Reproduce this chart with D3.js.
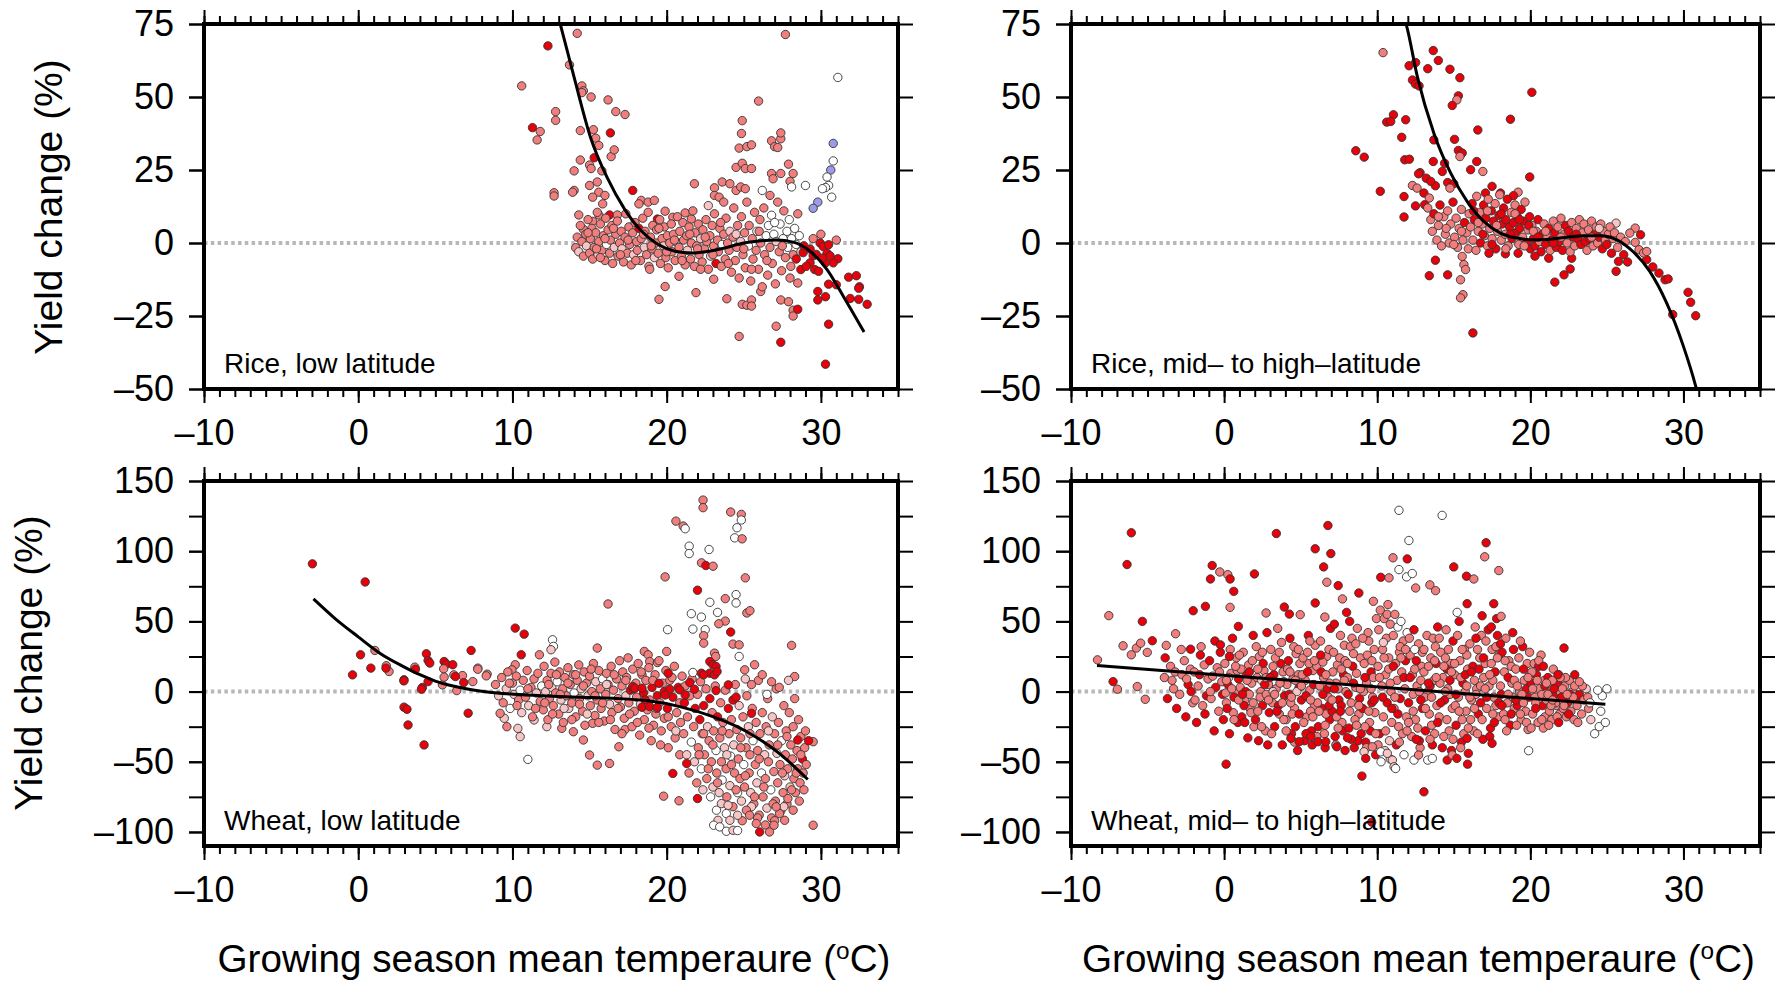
<!DOCTYPE html>
<html lang="en">
<head>
<meta charset="utf-8">
<title>Yield change vs growing season temperature</title>
<style>
  body { margin: 0; background: #fff; }
  svg { display: block; font-family: "Liberation Sans", Arial, Helvetica, sans-serif; }
</style>
<script src="https://d3js.org/d3.v7.min.js"></script>
</head>
<body>
<script>
// colour codes: 0 red, 1 salmon, 2 pale pink, 3 white, 4 blue
const dotColours = ["#e8000b", "#f27d7d", "#f7c5c5", "#ffffff", "#9b9bea"];

const xMajor = [-10, 0, 10, 20, 30];
const xMinor = d3.range(-10, 36, 1);
const yTicksRice = [-50, -25, 0, 25, 50, 75];
const yLabelsRice = [-50, -25, 0, 25, 50, 75];
const yTicksWheat = [-100, -75, -50, -25, 0, 25, 50, 75, 100, 125, 150];
const yLabelsWheat = [-100, -50, 0, 50, 100, 150];

// [temperature, yield change, colour code]
const riceLow = [
  [10.6,53.8,1],[12.3,67.5,0],[11.3,39.5,0],[11.8,38.2,1],[11.6,35.3,1],[12.8,45,1],[12.8,42,1],[12.7,17.2,1],[13.7,61,1],
  [14.2,71.8,1],[27.7,71.4,1],[31.1,56.7,3],[14.5,53.8,1],[14.6,52.1,1],[14.5,51.5,1],[15.1,50,1],[16.2,49,1],[16.7,45,1],[17.3,44,1],
  [25.96,48.6,1],[24.9,41.9,1],[24.85,37.5,1],[14.4,38.5,1],[15.25,38.8,1],[16.35,37.7,0],[15.4,35.9,1],[15.6,33.4,1],[15.3,29.2,0],
  [16.4,29.6,1],[16.6,31.9,1],[14.4,28.4,1],[15.0,26.7,1],[15.1,25.5,1],[14.0,24.7,1],[15.8,24.7,1],
  [24.7,32.5,1],[25.2,33,1],[25.5,33.6,1],[26.8,35,1],[27.4,35.7,1],[27.4,37.7,1],[27,33,1],[27.2,32.7,1],[24.5,25.9,1],[24.9,27.3,1],
  [25.1,25.5,1],[25.5,25.5,1],[27.9,27,1],
  [30.8,34.1,4],[30.8,28.1,3],[30.64,25,4],[30.4,22.6,3],[30.5,19.7,3],[30.3,19,3],[30.1,18.6,3],[30.7,15.7,3],[29.8,14,4],[29.5,11.9,4],
  [29.0,19.7,3],[28.2,23.8,1],[28.0,21.1,1],[28.1,19.2,3],
  [26.8,23.8,1],[27.4,23.8,1],[26.9,22,1],[26.2,18,3],[26.7,16.3,1],[21.8,20.3,1],
  [23.1,18.9,1],[23.6,20.9,1],[24.1,20.3,1],[24.5,18,1],[24.8,19.2,1],[25.1,18.6,1],[22.7,12.8,2],[23.1,16.3,1],[23.4,15.7,1],[23.7,14,1],
  [12.7,16.1,1],[14.0,18,1],[13.9,17.4,1],[15.0,19.7,1],[15.5,20.9,1],[15.6,17.4,1],[15.2,15.7,1],[16.0,16.3,1],[15.85,13.4,1],[14.3,9.6,1],[14.6,4.7,1],
  [15.2,7.4,1],[15.6,9.6,1],[16.3,9.6,0],[16.8,9.6,1],[17.8,18,0],[18.35,14.6,1],[18.8,14,1],[19.2,14.6,1],[18.2,13.4,1],[19.9,10.9,1],
  [19.4,8.2,0],[21.2,10.3,1],[20.4,8.8,1],[21.6,8.2,1],
  [19.9,-14.9,1],[19.5,-19.3,1],[20.8,-11.4,1],[21.9,-17,1],[23.05,-12.4,1],[23.9,-19.1,1],[24.9,-21,1],[25.2,-21.3,1],[25.5,-19.5,1],
  [25.5,-21.6,1],[24.7,-32,1],[26.1,-16.6,1],[27.1,-28.5,1],[27.4,-34,0],[27.4,-19.5,1],[27.9,-20.1,1],[28.2,-23,1],[28.2,-25,1],
  [28.5,-22.7,0],[28.5,-13.7,1],
  [14.1,-1.6,1],[14.2,2,1],[14.3,-3,2],[14.4,6,1],[14.5,0.5,1],[14.6,-4.5,1],
  [14.75,3,1],[14.8,-1,2],[14.9,8,1],[15.0,-3.5,1],[15.05,1.5,1],[15.15,5,1],[15.2,-5.5,1],
  [15.3,-1.5,1],[15.4,3.5,1],[15.5,10.5,1],[15.55,-4,2],[15.6,0.5,1],[15.7,6.5,1],
  [15.8,-2.5,1],[15.9,2.5,1],[16.0,-6,1],[16.05,8.5,1],[16.1,-0.5,3],[16.2,4.5,1],
  [16.3,-3.5,1],[16.35,1,1],[16.45,6,1],[16.5,-7,1],[16.6,-1.5,2],[16.7,3,1],
  [16.8,7.5,1],[16.85,-4.5,1],[16.95,0,1],[17.05,4,1],[17.1,-2,2],[17.2,-6.5,1],
  [17.3,2,1],[17.35,10,1],[17.45,-3.5,1],[17.55,5.5,1],[17.6,-0.5,1],[17.7,-7.5,1],
  [17.8,3.5,1],[17.85,-4,2],[17.95,7,1],[18.05,0.5,1],[18.1,-2.5,1],[18.2,5,0],
  [18.3,-6,1],[18.35,1.5,1],[18.45,8.5,1],[18.55,-1.5,2],[18.6,4,1],[18.7,-4,1],
  [18.8,10.5,1],[18.85,-8,1],[18.95,2,1],[19.05,-2,1],[19.1,6,1],[19.2,-5,2],
  [19.3,0,1],[19.35,4.5,1],[19.45,-3.5,1],[19.55,8,1],[19.6,-7,1],[19.7,1.5,1],
  [19.8,-1,2],[19.85,5.5,1],[19.95,-5,1],[20.05,2.5,1],[20.1,-8.5,1],[20.2,0,1],
  [20.3,6.5,1],[20.35,-3,1],[20.45,3,1],[20.55,-6,1],[20.6,0.5,2],[20.7,9,1],
  [20.8,-1.5,1],[20.85,4,1],[20.95,-4.5,1],[21.05,7,1],[21.1,1,1],[21.2,-7.5,1],
  [21.3,2.5,1],[21.35,-2.5,2],[21.45,5.5,1],[21.55,-5.5,1],[21.6,0,1],[21.7,11,1],
  [21.8,-8,1],[21.85,3.5,1],[21.95,-1,1],[22.05,6.5,1],[22.1,-4,1],[22.2,1.5,2],
  [22.3,-6.5,1],[22.35,4.5,1],[22.45,-2,1],[22.55,8,1],[22.6,0.5,1],[22.7,-9,1],
  [22.8,2.5,1],[22.85,-4.5,2],[22.95,6,1],[23.05,-1,1],[23.1,10,1],[23.2,-7,0],
  [23.3,1,1],[23.35,-3,1],[23.45,5,1],[23.55,-8,1],[23.6,-0.5,3],[23.7,3,1],
  [23.8,-5.5,1],[23.85,8.5,1],[23.95,0,1],[24.05,-2.5,1],[24.1,4,2],[24.2,-10,1],
  [24.3,2,1],[24.35,12,1],[24.45,-6,1],[24.55,-1.5,1],[24.6,6,1],[24.7,-12,1],
  [24.8,0.5,2],[24.85,9,1],[24.95,-4,1],[25.05,3.5,1],[25.1,-8.5,1],[25.2,14,1],
  [25.3,-1,3],[25.35,6,1],[25.45,-13,1],[25.55,1.5,1],[25.6,-5.5,1],[25.7,10.5,1],
  [25.8,-2.5,1],[25.85,4,3],[25.95,-9,1],[26.05,8,1],[26.1,0,1],[26.2,-15,1],
  [26.3,12,1],[26.35,-4,1],[26.45,2.5,3],[26.55,-11,1],[26.6,6,3],[26.7,-1.5,1],
  [26.8,9.5,3],[26.85,-7,1],[26.95,3,3],[27.05,-14,1],[27.1,0.5,2],[27.2,14,1],
  [27.3,-3,1],[27.35,6.5,3],[27.45,-9.5,1],[27.55,1.5,3],[27.6,11,1],[27.7,-5,1],
  [27.8,4,3],[27.85,-1.5,3],[27.95,8,3],[28.05,-8,1],[28.1,1.5,3],[28.2,-4,1],
  [28.3,5,3],[28.4,-0.5,3],[28.5,10,1],[28.6,2.5,3],[28.7,-3,2],
  [14.9,3.5,1],[15.45,-2,1],[16.0,1.5,1],[16.55,5,1],[17.0,-4,1],[17.5,1,1],[18.0,-6,1],[18.5,3,1],[19.0,-1,1],[19.5,5,1],
  [20.0,-3,1],[20.5,1,1],[21.0,-6,1],[21.5,3,1],[22.0,-2,1],[22.5,2,1],[23.0,-4,1],[23.5,7,1],[24.0,-7,1],[24.5,3,2],
  [25.0,-2,1],[25.5,-9,1],[26.0,4,1],[26.5,-6,1],[27.0,7,3],[27.5,-1,1],[28.0,-12,1],[15.7,-5,1],[18.9,-9,1],[22.2,-9,1],
  [29.8,-16.6,0],[29.8,-19.5,0],[30.3,-18.4,0],[30.5,-14.1,0],[30.5,-27.8,0],[30.3,-41.5,0],[31.0,-14.3,0],[31.8,-11.7,0],
  [32.3,-11.2,0],[32.5,-15,0],[32.45,-15.5,0],[31.9,-19,0],[32.45,-19.3,0],[33.0,-21,0],[31.1,-5.4,0],[30.8,-6.8,0],[31.0,1.0,1],
  [28.85,-3.3,0],[29.3,-2.1,0],[29.5,-4.4,0],[29.7,-3.9,0],[29.95,0,0],[30.15,-1.2,0],[30.4,-3.5,0],[30.5,-0.6,0],[29.3,-6.8,0],
  [29.6,-9.1,0],[29.85,-9.7,0],[28.7,-9.1,0],[29.05,-8,0],[30.3,-6.8,0],[30.1,-5.2,0],[30.6,-4.4,0],[28.4,-5.5,0],[28.9,-1,0],
  [29.5,1.5,1],[30.0,3,1]
];

const riceHigh = [
  [10.38,65.2,1],[13.66,65.9,0],[13.99,62.5,0],[12.08,60.7,0],[12.51,61.8,0],[13.3,59.7,0],[14.75,59.5,0],[15.4,56.6,0],[12.3,55.8,0],
  [12.5,54.4,0],[12.73,53.8,0],[15.3,50.4,0],[15.2,49,1],[14.9,47.1,0],[20.1,51.6,0],[11.06,43.9,0],[10.62,41.4,0],[10.88,41.6,0],
  [11.86,42.2,0],[18.7,42.4,0],[8.6,31.6,0],[9.15,29.4,0],[11.6,36.2,0],[11.8,28.5,0],[12.1,28.7,0],[13.7,35.3,0],[15.05,35.5,0],
  [16.57,38.7,0],[15.3,31.7,0],[15.55,30.8,0],[15.4,29.6,1],[13.66,27.9,0],[14.4,27.3,0],[16.1,25.1,0],[16.5,27.9,0],[19.96,22.6,0],
  [10.2,17.7,0],[11.75,15.9,0],[12.5,12.7,0],[11.75,8.9,0],[12.8,24.1,0],[12.7,23.7,0],[13.2,22.2,0],[13.8,19.6,0],[13.5,21.1,0],
  [14.25,24.5,0],[14.6,20.7,0],[15.0,20.3,0],[14.75,18.8,1],[12.3,19.7,1],[12.6,18.8,1],[13.05,17.1,0],[13.4,15.4,1],[13.1,13.1,0],
  [16.9,24.5,1],[17.5,19.4,0],[18.05,17.1,0],[17.07,17.1,0],[19.2,17.4,1],[18.9,16.2,0],
  [13.8,-5.9,0],[13.4,-11.2,0],[14.6,-10.9,0],[15.55,-4.6,1],[15.66,-7.4,1],[15.77,-9.1,1],[15.44,-12.6,1],[15.6,-17.7,1],
  [15.44,-18.8,1],[16.25,-30.8,0],[18.37,-3.7,0],[21.2,-5.2,0],[22.7,-5.2,0],[22.6,-8.9,0],[22.2,-10.9,0],[21.6,-13.4,0],
  [25.6,-9.7,0],[25.76,-6.3,0],[26.35,-6.5,0],[27.2,2.8,0],[26.85,5.1,1],[26.5,3.4,1],[27.6,-5.7,0],[28.0,-8.2,0],[28.4,-10.3,0],
  [28.8,-12.6,0],[29.0,-12.3,0],[29.3,-24.5,0],[30.3,-16.9,0],[30.47,-20.3,0],[30.8,-24.9,0],[25.6,6.8,2],[26.85,0.2,1],
  [27.1,-2.3,1],[27.4,-3.4,1],[27.6,-2.9,1],
  [13.3,12,1],[13.5,8,1],[13.6,4,1],[13.7,10,0],[13.9,1,1],[14.0,6,1],[14.1,13,0],[14.2,-1,1],[14.35,9,1],[14.45,3,1],[14.6,11,1],
  [14.7,0,1],[14.8,6.5,1],[14.95,14,0],[15.05,2,1],[15.15,8.5,1],[15.25,-1.5,1],[15.35,5,1],[15.5,11.5,1],[15.6,1,1],[15.7,7,0],
  [15.85,3.5,1],[15.95,-2,1],[16.0,10,1],
  [16.1,5.5,1],[16.2,13.5,0],[16.25,1,1],[16.35,8,0],[16.45,-2.5,1],[16.5,16,1],[16.6,4,1],[16.7,10.5,1],[16.75,0,0],[16.85,6.5,1],
  [16.95,13,0],[17.0,2.5,1],[17.1,8.5,0],[17.2,-1,1],[17.25,15,1],[17.35,5,1],[17.45,11,0],[17.5,1.5,1],[17.6,7.5,0],[17.7,13.5,1],
  [17.75,-2,0],[17.85,4,1],[17.95,9.5,0],[18.0,16.5,1],[18.1,1,1],[18.15,6.5,0],[18.25,12,0],[18.35,3,1],[18.4,8,0],[18.5,15,0],
  [18.55,-1,1],[18.65,5.5,0],[18.75,10.5,1],[18.8,1.5,0],[18.9,7,0],[19.0,13,1],[19.05,3.5,0],[19.15,9,0],[19.25,-0.5,1],[19.3,5,0],
  [19.4,11.5,0],[19.5,2,1],[19.55,7.5,0],[19.65,14,1],[19.75,0,0],[19.85,4.5,1],[19.95,9,0],[20.0,-2,0],
  [20.1,6,1],[20.2,1.5,0],[20.3,-1,0],[20.4,4,1],[20.5,8,0],[20.6,0.5,1],[20.7,-3,0],[20.8,3,0],[20.9,6.5,1],[21.0,-0.5,0],
  [21.1,2,1],[21.2,5,0],[21.3,-2.5,1],[21.4,1,0],[21.5,7.5,1],[21.6,3.5,0],[21.7,-1.5,0],[21.8,5.5,1],[21.9,0.5,0],[22.0,8.5,1],
  [22.1,-2.5,0],[22.2,3,1],[22.3,6,0],[22.4,0,1],[22.5,4,0],[22.6,-3,1],[22.7,7,1],[22.8,2,0],[22.9,-1,1],[23.0,5,1],[23.1,1.5,0],
  [23.2,8,1],[23.3,-0.5,0],[23.4,3.5,1],[23.5,6.5,1],[23.6,0.5,0],[23.7,-2.5,1],[23.8,4.5,1],[23.9,1.5,0],[24.0,7.5,1],[24.1,-1,1],
  [24.2,3,0],[24.3,5.5,1],[24.4,0,1],[24.5,2,0],[24.6,6.5,1],[24.7,-2,0],[24.8,4,1],[24.9,1,1],[25.0,-0.5,0],[25.1,3,1],[25.2,5.5,1],
  [25.3,-3.5,0],[25.4,1.5,1],[25.5,3.5,1],[25.7,-1.5,1],[25.9,2,1],[26.1,-4,0],[26.2,0.5,1],
  [24.5,5,2],[19.2,-3.5,0],[17.3,-3.5,0],[20.3,-4.5,0],
  [16.3,11,0],[16.6,7,1],[16.9,3,0],[17.2,11,1],[17.5,-0.5,0],[17.8,6,1],[18.1,10,0],[18.4,-2,1],[18.7,3,0],[19.0,10,1],
  [19.3,8,0],[19.6,-1,1],[19.9,6,0],[20.2,4,1],[20.5,2,0],[21.0,4,1],[21.5,0,0],[22.0,2,1],[23.0,3,0],[24.0,2,1],
  [14.0,9,1],[14.5,5,1],[15.0,-0.5,1],[15.5,4,1]
];

const wheatLow = [
  [-2.97,91,0],[0.45,78.1,0],[-0.37,11.9,0],[0.15,26.2,0],[0.82,16.7,0],[1.08,29.3,1],[1.82,18.4,1],[2.0,14.3,1],[2.97,8.4,0],
  [2.97,-11.1,0],[3.16,-12.6,0],[3.23,-23.8,0],[4.27,-38,0],[3.67,17.4,1],[4.42,26.9,0],[4.53,22.1,0],[4.64,20.3,0],[4.16,2.9,0],
  [4.53,7.1,0],[5.57,21.4,0],[5.72,19.6,0],[6.13,19.1,0],[5.54,16.2,1],[6.2,11.9,1],[6.76,11.4,1],[6.84,6.4,0],[7.13,-15.4,0],
  [7.32,29.3,0],[7.76,16.7,1],[8.36,12.4,1],[7.43,7.1,1],[6.39,0.7,1],[5.46,4.8,1],[5.57,10.3,1],
  [10.18,45.2,0],[10.76,40.9,0],[1.8,16.7,0],[2.96,7.6,0],[4.1,1.7,0],[3.71,15.9,0],[6.3,10.7,0],[8.3,11.2,1],[7.75,15.9,1],
  [11.0,-48.3,3],[16.2,62.4,1],[15.5,31,1],[12.6,36.9,3],[12.66,32.2,3],[12.5,29.8,2],[11.75,26.2,1],[10.57,26.2,0],[10.18,19.1,1],
  [9.97,15.5,1],
  [19.9,81.7,1],[22.36,136.4,1],[22.36,131,1],[20.6,121.4,1],[21.07,117.9,1],[21.2,116,3],[24.15,127.9,1],[24.84,126.2,1],
  [24.84,122.2,3],[24.56,116.7,3],[24.41,109.5,3],[24.89,108.8,1],[21.46,103.6,3],[21.46,98.3,3],[22.75,101.2,3],[22.26,91.7,1],
  [22.54,89.8,0],[23.01,89.3,1],[25.1,81,1],[22.0,72.2,0],[23.8,66.2,1],[24.5,69.1,3],[24.5,63.1,3],[22.8,63.6,3],[21.6,55.5,3],
  [22.25,53.1,3],[23.3,56.4,3],[23.8,50.2,1],[23.38,48.3,1],[25.2,56,1],[25.4,57.6,1],[20.06,44.1,3],[21.7,44.5,3],[22.5,44.1,3],
  [22.4,39.8,1],[22.4,34.5,1],[24.15,42.4,0],[24.3,33.8,1],[24.7,33.3,1],[24.7,25,3],[28.1,32.9,1],[28.3,10.7,1],[29.5,-35.7,1],
  [29.5,-95.2,1],
  [18.55,28.6,1],[18.8,26.2,1],[18.9,21.4,1],[19.4,20.7,1],[20.0,28.6,1],[25.7,19.1,1],[25.06,15.5,1],[23.1,27.4,1],[23.18,25,1],
  [15.2,-22.6,1],[17.3,-27,1],[16.9,-39.3,1],[16.3,-51.2,1],[15.5,-52.4,1],[14.6,-34.5,1],[15.0,-45.2,1],[13.2,-26.2,1],
  [13.95,-28.6,1],[10.5,-32.1,2],[9.64,-25,1],[9.47,-19,2],[9.2,-15.5,1],[10.35,-26.2,2],[11.4,-20.2,2],[12.23,-25,2],
  [8.9,5,1],[9.1,-3,2],[9.3,10,1],[9.4,-8,1],[9.6,2,2],[9.7,14,1],[9.85,-12,3],[10.0,6,1],[10.1,-2,2],[10.25,11,1],[10.4,-6,1],
  [10.5,1,3],[10.6,-15,2],[10.7,8,1],[10.85,-4,1],[10.95,15,1],[11.05,-10,2],[11.2,3,1],[11.3,-18,1],[11.4,9,1],[11.55,-1,2],
  [11.65,13,1],[11.8,-7,1],[11.9,4,3],
  [12.0,-13,1],[12.05,18,1],[12.15,0,2],[12.25,8,1],[12.3,-20,1],[12.4,-5,1],[12.5,13,1],[12.55,3,2],[12.65,-10,1],[12.75,21,1],
  [12.8,-1,1],[12.9,7,3],[13.0,-16,1],[13.05,14,1],[13.15,-6,2],[13.25,2,1],[13.3,-22,1],[13.4,10,1],[13.5,-3,1],[13.6,17,1],
  [13.65,-12,2],[13.75,5,1],[13.85,-8,1],[13.95,12,1],[14.0,-1,3],[14.1,-18,1],[14.2,8,1],[14.3,19,1],[14.35,-5,1],[14.45,2,2],
  [14.55,-14,1],[14.65,14,1],[14.7,-24,1],[14.8,6,1],[14.9,-3,2],[15.0,11,1],[15.05,-10,1],[15.15,0,1],[15.25,20,1],[15.35,-17,1],
  [15.4,7,2],[15.5,-6,1],[15.6,15,1],[15.7,2,1],[15.75,-12,1],[15.85,9,3],[15.95,-21,1],[16.05,-2,1],[16.1,13,1],[16.2,5,1],
  [16.3,-9,2],[16.4,18,1],[16.45,-15,1],[16.55,1,1],[16.65,-27,1],[16.75,9,1],[16.85,-5,1],[16.95,22,1],
  [17.0,-11,1],[17.1,4,1],[17.15,14,1],[17.25,-19,1],[17.35,-3,2],[17.4,10,1],[17.5,24,1],[17.55,-8,1],[17.65,1,0],[17.75,-25,1],
  [17.8,16,1],[17.9,-14,1],[18.0,6,1],[18.05,-4,1],[18.15,20,1],[18.25,-31,1],[18.3,-9,2],[18.4,12,1],[18.5,-1,0],[18.55,-20,1],
  [18.65,8,1],[18.75,-13,1],[18.85,17,1],[18.9,-6,1],[19.0,-35,1],[19.05,3,0],[19.15,-24,1],[19.25,12,1],[19.3,-16,1],[19.4,-3,0],
  [19.5,22,1],[19.55,-8,1],[19.65,-28,1],[19.75,6,1],[19.85,-19,1],[19.95,15,1],[20.05,-12,0],[20.1,-40,1],[20.2,8,1],[20.3,-25,1],
  [20.4,-4,0],[20.5,18,1],[20.55,-33,1],[20.65,-15,1],[20.75,3,0],[20.85,-45,1],[20.9,-22,1],[21.0,11,1],
  [12.1,-8,1],[12.35,5,1],[12.6,-16,1],[12.85,12,1],[13.1,-2,1],[13.35,-12,2],[13.6,6,1],[13.85,-20,1],[14.1,12,1],[14.35,-9,1],
  [14.6,4,1],[14.85,-16,2],[15.1,16,1],[15.35,-3,1],[15.6,-22,1],[15.85,-8,1],[16.1,5,2],[16.35,-20,1],[16.6,12,1],[16.85,-12,1],
  [17.1,-30,1],[17.35,8,1],[17.6,-16,1],[17.85,2,0],[18.1,-22,1],[18.35,14,1],[18.6,-6,0],[18.85,-26,1],[19.1,8,1],[19.35,-12,1],
  [19.6,-38,1],[19.85,0,0],[20.1,-18,1],[20.35,10,1],[20.6,-28,2],[20.85,-8,1],[11.0,2,1],[11.5,-12,1],[10.3,-10,1],[9.8,6,1],
  [21.1,-30,1],[21.15,-8,0],[21.2,4,1],[21.3,-45,2],[21.35,-18,1],[21.45,-58,1],[21.5,-3,1],[21.6,-36,3],[21.65,9,1],[21.75,-25,1],
  [21.8,-50,2],[21.85,-12,0],[21.95,-65,1],[22.0,-2,1],[22.05,-40,1],[22.15,-20,0],[22.2,7,1],[22.25,-55,3],[22.3,-30,1],[22.35,-70,2],
  [22.4,-10,0],[22.45,-45,1],[22.55,2,1],[22.6,-62,1],[22.65,-25,2],[22.75,-35,1],[22.8,-5,0],[22.85,-75,3],[22.9,-50,1],[22.95,-15,1],
  [23.0,-68,2],[23.05,-28,1],[23.15,4,1],[23.2,-42,3],[23.25,-58,1],[23.3,-18,0],[23.4,-72,2],[23.45,-33,1],[23.5,-8,1],[23.55,-50,1],
  [23.6,-63,3],[23.65,-22,1],[23.75,-40,2],[23.8,1,1],[23.85,-55,1],[23.9,-75,1],[24.0,-12,0],[24.05,-30,1],[24.1,-67,2],[24.15,-46,3],
  [24.2,-20,1],[24.3,-82,1],[24.35,-38,2],[24.4,-58,1],[24.45,5,1],[24.55,-27,1],[24.6,-72,3],[24.65,-48,1],[24.7,-10,2],[24.75,-62,1],
  [24.8,-33,1],[24.85,-78,2],[24.95,-18,1],[25.0,-52,3],[25.05,-68,1],[25.15,-40,1],[25.2,-3,1],[25.25,-85,1],[25.3,-25,2],[25.35,-58,1],
  [25.4,-45,1],[25.45,-72,2],[25.55,-12,1],[25.6,-35,3],[25.65,-80,1],[25.75,-52,1],[25.8,-22,1],[25.85,-65,2],[25.9,-42,1],[25.95,8,1],
  [26.0,-88,1],[26.05,-30,1],[26.15,-58,3],[26.2,-15,1],[26.25,-75,1],[26.35,-45,2],[26.4,-62,1],[26.45,-25,1],[26.5,-83,2],[26.55,-5,1],
  [26.6,-50,1],[26.65,-38,1],[26.75,-70,3],[26.8,-90,1],[26.85,-18,2],[26.95,-57,1],[27.0,-30,1],[27.05,-78,1],[27.1,2,1],[27.15,-44,2],
  [27.2,-65,1],[27.25,-22,1],[27.35,-52,1],[27.4,-85,1],[27.45,-35,3],[27.55,-72,1],[27.6,-10,1],[27.65,-60,2],[27.7,-45,1],[27.75,-28,1],
  [27.8,-80,1],[27.85,-55,1],[27.95,-15,1],[28.0,-68,2],[28.05,-38,1],[28.15,-48,1],[28.2,-25,1],[28.25,-62,1],[28.3,-5,1],[28.35,-72,1],
  [28.45,-42,1],[28.5,-55,1],[28.55,-20,1],[28.65,-65,1],[28.7,-32,1],[28.8,-48,0],[28.85,-58,1],[28.95,-40,1],[29.05,-52,1],
  [29.2,-35,0],[28.6,-78,1],[28.9,-70,1],
  [22.1,-45,1],[22.7,-55,1],[23.3,-65,1],[23.9,-45,2],[24.5,-70,1],[25.1,-60,1],[25.7,-75,1],[26.3,-68,1],[26.9,-80,1],[27.5,-58,1],
  [28.1,-70,1],[28.7,-45,1],[22.4,-30,1],[23.0,-38,1],[23.6,-28,1],[24.2,-52,1],[24.8,-40,1],[25.4,-30,1],[26.0,-48,1],[26.6,-28,2],
  [27.2,-38,1],[27.8,-32,1],[28.4,-58,1],[29.0,-28,1],[25.9,-90,1],[26.4,-95,1],[27.0,-92,1],[27.6,-82,2],[24.9,-92,1],[25.5,-82,2],
  [25.5,5,1],[26.2,12,1],[26.8,7,1],[27.3,3,1],[27.9,8,2],[26.5,-2,3],[25.1,9,2],
  [22.8,21.4,0],[23.0,19.1,0],[23.2,17.9,0],[22.8,13.1,0],[23.1,11.9,0],[23.27,14.3,0],[22.25,13.1,0],[22.4,11.9,0],[21.7,13.6,3],
  [20.1,13.1,0],[20.2,1.7,0],[19.9,-2.4,0],[20.85,1.2,0],[21.2,-2.4,0],[21.5,6.5,0],[21.8,1.7,0],[23.2,0.7,0],[24.0,4.8,0],
  [24.3,-6,0],[24.5,-4,0],[25.5,-15.5,0],[28.5,-34.5,0],[21.3,-51.2,0],[20.4,-58.3,0],
  [18.4,-11.2,0],[18.9,-10.7,0],[19.4,-11.4,0],[17.8,3.6,0],[17.94,2.4,0],[18.4,2.4,0],[19.5,5.9,0],
  [19.8,-74.5,1],[20.8,-77.8,1],[22.0,-76.2,0],[25.17,-84.5,1],[25.38,-88.1,1],[25.81,-94,1],[26.03,-100,0],[26.67,-100,1],
  [26.96,-95.2,1],[27.32,-86.9,1],[27.65,-91.7,1],[28.2,-84.5,1],[27.1,-82.1,1],[27.86,-76.2,1],[23.23,-84.5,3],[23.55,-79.8,2],
  [23.98,-81,2],[23.87,-86.9,3],[23.33,-91.7,2],[23.05,-95.2,3],[23.44,-96.4,3],[23.87,-99.5,3],[24.3,-98.8,2],[24.6,-99,3],
  [24.1,-91.7,2],[24.6,-88.1,2]
];

const wheatHigh = [
  [-3.9,10,1],[-3.7,-5,0],[-3.5,18,1],[-3.3,2,1],[-3.1,-12,0],[-3.85,24,0],[-3.4,8,1],[-3.2,14,1],
  [-2.9,-2,1],[-2.75,12,1],[-2.6,22,1],[-2.5,-18,0],[-2.35,5,0],[-2.2,16,1],[-2.05,-8,1],[-2.8,30,1],[-2.45,9,1],[-2.15,0,0],
  [-1.95,14,1],[-1.8,-22,0],[-1.7,4,1],[-1.55,26,0],[-1.4,-10,1],[-1.3,19,1],[-1.15,-3,0],[-1.05,9,1],[-1.9,-6,1],[-1.5,32,1],
  [-1.25,-16,0],[-1.6,12,0],
  [-0.95,22,0],[-0.85,-5,1],[-0.75,11,1],[-0.65,-28,0],[-0.55,3,0],[-0.45,17,1],[-0.35,-14,1],[-0.25,28,0],[-0.15,7,1],
  [-0.05,-20,0],[-0.9,0,1],[-0.6,36,0],[-0.3,14,1],[-0.1,-2,0],
  [0.05,20,1],[0.15,-8,1],[0.25,5,0],[0.35,-30,0],[0.45,13,1],[0.55,38,0],[0.6,-15,1],[0.7,0,1],[0.8,24,1],[0.9,-22,0],[0.95,9,0],
  [0.1,-1,1],[0.4,30,1],[0.65,-4,0],[0.85,15,1],[0.3,10,2],
  [1.05,3,1],[1.15,-18,0],[1.25,28,1],[1.35,-6,1],[1.45,12,0],[1.55,-33,0],[1.6,19,1],[1.7,-12,1],[1.8,6,1],[1.9,40,0],[1.95,-25,1],
  [1.1,16,1],[1.4,0,0],[1.65,-2,1],[1.85,22,1],[1.3,-10,0],
  [2.05,-20,0],[2.15,10,1],[2.25,-35,0],[2.3,25,1],[2.4,0,1],[2.5,-10,0],[2.6,15,1],[2.7,-28,1],[2.8,42,0],[2.9,5,1],[2.95,-15,0],
  [2.1,32,1],[2.35,-4,1],[2.55,20,0],[2.75,-2,1],[2.85,-38,0],[2.45,8,2],
  [3.05,30,1],[3.15,-8,1],[3.25,12,0],[3.3,-25,0],[3.4,2,1],[3.5,45,1],[3.6,-16,1],[3.7,20,0],[3.8,-38,0],[3.9,7,1],[3.95,-3,0],
  [3.1,-30,1],[3.35,24,1],[3.55,-10,0],[3.75,35,1],[3.85,14,1],[3.2,0,2],
  [4.05,-20,1],[4.15,16,1],[4.25,-2,0],[4.3,38,0],[4.4,-30,0],[4.5,9,1],[4.6,-12,1],[4.7,27,1],[4.8,-42,0],[4.9,3,0],[4.95,20,1],
  [4.1,5,1],[4.35,-8,1],[4.55,32,1],[4.65,-25,0],[4.85,12,1],[4.45,-16,1],[4.75,0,2],
  [5.05,-6,0],[5.15,24,1],[5.25,-35,0],[5.3,8,1],[5.4,-18,1],[5.5,40,0],[5.6,1,1],[5.7,-28,0],[5.8,15,1],[5.9,-10,1],[5.95,33,1],
  [5.1,12,1],[5.35,-3,0],[5.55,20,1],[5.65,-14,1],[5.85,5,0],[5.45,28,1],[5.75,-38,0],
  [6.05,18,1],[6.15,-25,0],[6.25,4,1],[6.3,36,1],[6.4,-12,0],[6.5,10,1],[6.6,-40,0],[6.7,25,1],[6.8,-4,1],[6.9,-20,0],[6.95,45,0],
  [6.1,-8,1],[6.35,14,0],[6.55,-30,1],[6.75,2,0],[6.85,30,1],[6.45,21,1],[6.65,-16,1],
  [7.05,-14,0],[7.15,28,1],[7.25,-32,0],[7.3,6,1],[7.4,19,1],[7.5,-6,0],[7.6,40,1],[7.7,-22,1],[7.8,12,0],[7.9,-42,0],[7.95,0,1],
  [7.1,14,1],[7.35,-18,1],[7.55,24,1],[7.65,-10,0],[7.85,33,1],[7.45,2,1],[7.75,-28,0],[7.2,48,0],
  [8.05,10,1],[8.15,-26,0],[8.25,32,1],[8.3,-8,1],[8.4,18,0],[8.5,-40,0],[8.6,3,1],[8.7,45,1],[8.8,-16,1],[8.9,24,1],[8.95,-30,0],
  [8.1,-2,0],[8.35,38,1],[8.55,-20,1],[8.65,13,1],[8.85,-5,0],[8.45,27,1],[8.75,-35,0],[8.2,50,0],
  [9.05,-12,0],[9.15,20,1],[9.25,-36,0],[9.3,6,1],[9.4,42,1],[9.5,-22,1],[9.6,14,0],[9.7,-4,1],[9.8,30,1],[9.9,-45,0],[9.95,52,1],
  [9.1,0,1],[9.35,26,1],[9.55,-28,0],[9.75,10,1],[9.85,-15,1],[9.45,36,1],[9.65,-8,0],[9.2,-25,1],
  [10.05,18,1],[10.1,44,1],[10.15,-30,0],[10.2,58,1],[10.3,4,1],[10.35,30,1],[10.4,-18,1],[10.45,52,1],[10.5,-42,2],[10.55,12,1],
  [10.6,38,1],[10.65,-8,0],[10.7,62,1],[10.75,24,1],[10.8,-35,2],[10.85,48,1],[10.9,0,1],[10.95,-22,1],[10.25,-50,3],[10.65,55,1],
  [10.85,-48,2],[10.4,35,2],
  [11.05,40,1],[11.1,-12,1],[11.15,55,1],[11.2,20,1],[11.25,-38,0],[11.3,8,1],[11.35,46,3],[11.4,-25,1],[11.45,28,1],[11.5,-5,0],
  [11.55,50,3],[11.6,14,1],[11.65,-30,1],[11.7,36,1],[11.75,-45,3],[11.8,2,1],[11.85,22,0],[11.9,-18,1],[11.95,42,3],[11.5,32,1],
  [12.05,-8,0],[12.15,26,1],[12.25,-32,1],[12.3,12,1],[12.4,44,0],[12.5,-20,1],[12.6,4,1],[12.7,34,1],[12.8,-40,1],[12.9,18,1],
  [12.95,-12,0],[12.1,38,1],[12.35,-2,1],[12.55,22,0],[12.65,-26,1],[12.85,8,1],[12.45,30,3],[12.75,-35,0],
  [13.05,14,1],[13.15,-28,0],[13.25,40,1],[13.3,0,1],[13.4,-16,1],[13.5,24,1],[13.6,-38,0],[13.7,8,1],[13.8,32,1],[13.9,-10,1],
  [13.95,46,0],[13.1,-4,1],[13.35,18,1],[13.55,-24,1],[13.75,-30,1],[13.85,20,0],[13.45,4,0],[13.65,38,1],
  [14.05,-18,1],[14.15,28,1],[14.25,-40,0],[14.3,10,1],[14.4,-6,0],[14.5,44,1],[14.6,2,1],[14.7,-28,1],[14.8,20,1],[14.9,-12,1],
  [14.95,36,0],[14.1,6,1],[14.35,-32,1],[14.55,16,0],[14.75,-2,1],[14.85,-42,0],[14.45,24,1],[14.65,30,1],
  [15.05,12,1],[15.15,-24,0],[15.25,40,1],[15.3,-4,1],[15.4,22,1],[15.5,-36,0],[15.6,6,0],[15.7,30,1],[15.8,-14,1],[15.9,16,1],
  [15.95,-44,0],[15.1,-10,1],[15.35,50,0],[15.55,-20,1],[15.75,0,1],[15.85,26,1],[15.45,10,1],[15.65,-30,1],
  [16.05,34,1],[16.15,-6,1],[16.25,18,0],[16.3,-28,1],[16.4,46,1],[16.5,2,1],[16.6,-16,0],[16.7,24,1],[16.8,40,1],[16.9,-34,0],
  [16.95,10,1],[16.1,-20,1],[16.35,8,1],[16.55,30,1],[16.75,-8,0],[16.85,54,0],[16.45,-2,1],[16.65,16,0],
  [17.05,20,1],[17.15,-12,1],[17.25,44,0],[17.3,4,1],[17.4,-26,0],[17.5,30,1],[17.6,-4,1],[17.7,14,0],[17.8,52,0],[17.9,-18,1],
  [17.95,26,1],[17.1,36,1],[17.35,-32,0],[17.55,8,1],[17.75,-10,1],[17.85,40,0],[17.45,20,1],[17.65,-22,0],
  [18.05,4,1],[18.15,28,0],[18.25,-16,1],[18.3,14,1],[18.4,38,1],[18.5,-8,1],[18.6,22,1],[18.7,-24,0],[18.8,6,1],[18.9,30,0],
  [18.95,-12,1],[18.1,-2,0],[18.35,-20,1],[18.55,10,0],[18.75,18,1],[18.85,-4,1],
  [19.05,16,1],[19.15,-10,0],[19.25,24,1],[19.3,0,1],[19.4,-20,1],[19.5,32,0],[19.6,8,1],[19.7,-14,1],[19.8,20,1],[19.9,-4,0],
  [19.95,12,1],[19.1,-24,1],[19.35,36,1],[19.55,-8,1],[19.75,2,0],[19.85,-27,1],
  [20.05,6,0],[20.15,-16,1],[20.25,20,1],[20.3,-4,1],[20.4,12,0],[20.5,-22,1],[20.6,2,1],[20.7,26,1],[20.8,-10,0],[20.9,8,1],
  [20.95,-18,1],[20.1,14,1],[20.35,-8,1],[20.55,18,0],[20.75,-2,1],[20.85,-26,1],
  [21.05,-6,1],[21.15,10,0],[21.25,-14,1],[21.3,4,1],[21.4,-20,1],[21.5,16,1],[21.6,-2,0],[21.7,-10,1],[21.8,6,0],[21.9,-16,1],
  [21.95,0,1],[21.2,-24,1],[21.45,8,1],[21.65,-8,1],[21.85,12,1],
  [22.05,-4,0],[22.15,-12,1],[22.25,4,1],[22.35,-18,1],[22.45,-8,0],[22.55,8,1],[22.65,-14,1],[22.75,0,1],[22.85,-20,1],[22.95,-6,0],
  [22.3,10,1],[22.6,-2,0],[22.9,4,1],
  [23.05,-10,1],[23.2,-2,0],[23.35,-16,1],[23.5,-6,1],[23.65,2,2],[23.8,-12,1],[23.95,-20,2],[23.4,4,1],[23.75,-4,1],[23.1,-22,1],
  [0.2,-12,0],[0.5,2,1],[0.75,18,1],[0.95,-6,1],[0.35,25,0],[0.65,-20,1],[0.15,8,1],
  [1.2,-2,0],[1.5,8,1],[1.75,-15,1],[1.0,26,1],[1.35,-22,0],[1.65,14,0],[1.9,-8,1],
  [2.2,16,1],[2.45,-25,1],[2.65,5,0],[2.9,-6,1],[2.2,-14,1],[2.5,28,1],[2.75,10,1],
  [3.2,18,1],[3.45,-14,0],[3.65,6,1],[3.9,-20,1],[3.0,10,0],[3.3,-2,1],[3.6,28,1],[3.8,-8,1],
  [4.2,22,0],[4.4,-4,1],[4.65,8,1],[4.9,-16,0],[4.05,-28,1],[4.3,14,1],[4.6,-36,1],[4.85,30,1],
  [5.2,-22,1],[5.45,14,0],[5.65,-6,1],[5.9,22,1],[5.05,4,1],[5.35,-30,0],[5.6,36,1],[5.8,-18,1],
  [6.2,-14,1],[6.45,-2,0],[6.65,12,1],[6.9,6,1],[6.05,-32,1],[6.3,26,0],[6.6,-24,1],[6.85,-10,0],
  [7.2,2,0],[7.45,-26,1],[7.65,16,1],[7.9,22,1],[7.05,-6,1],[7.3,-38,1],[7.6,-14,0],[7.85,8,1],
  [8.2,-14,1],[8.45,6,0],[8.65,-24,1],[8.9,2,1],[8.05,20,1],[8.3,-34,0],[8.6,34,1],[8.8,-10,1],
  [9.2,10,0],[9.45,-14,1],[9.65,22,1],[9.9,-30,1],[9.05,38,1],[9.3,-40,1],[9.6,2,1],[9.8,-6,0],
  [10.15,10,1],[10.35,-4,0],[10.55,-28,1],[10.75,16,1],[10.95,-12,0],[10.05,-38,1],[10.45,24,1],[10.85,6,1],
  [11.15,-4,1],[11.35,-16,0],[11.55,24,1],[11.75,10,0],[11.95,-28,1],[11.05,18,0],[11.45,-36,1],[11.85,30,1],
  [12.15,10,0],[12.35,-14,1],[12.55,-34,0],[12.75,0,1],[12.95,28,1],[12.05,-22,1],[12.45,16,1],[12.85,-6,0],
  [13.15,-12,1],[13.35,6,0],[13.55,-4,1],[13.75,22,1],[13.95,-22,0],[13.05,30,1],[13.45,-34,1],[13.85,10,1],
  [14.15,-8,0],[14.35,18,1],[14.55,-20,1],[14.75,8,0],[14.95,-34,1],[14.05,38,1],[14.45,0,1],[14.85,14,1],
  [15.15,-2,0],[15.35,-14,1],[15.55,30,1],[15.75,12,0],[15.95,-26,1],[15.05,20,1],[15.45,-40,1],[15.85,4,1],
  [16.15,14,0],[16.35,-12,1],[16.55,-30,1],[16.75,4,1],[16.95,24,0],[16.05,-4,1],[16.45,38,0],[16.85,-20,1],
  [17.15,-4,0],[17.35,12,1],[17.55,-16,1],[17.75,32,1],[17.95,-8,0],[17.05,2,1],[17.45,46,0],[17.85,24,1],
  [18.15,-10,0],[18.35,22,1],[18.55,-2,1],[18.75,-16,0],[18.95,8,1],[18.05,34,0],[18.45,-28,1],[18.85,42,0],
  [19.15,4,1],[19.35,-16,1],[19.55,16,0],[19.75,-22,1],[19.95,28,1],[19.05,-6,0],[19.45,-2,1],[19.85,10,1],
  [20.15,2,1],[20.35,-12,0],[20.55,22,1],[20.75,-20,1],[20.95,4,0],[20.05,-26,1],[20.45,8,1],[20.85,18,0],
  [21.15,-2,1],[21.35,-10,1],[21.55,2,0],[21.75,-18,1],[21.95,10,1],[21.05,6,1],[21.45,-6,1],[21.85,-22,0],
  [22.2,-10,1],[22.5,-16,0],[22.8,-4,1],[22.1,2,1],
  [-7.53,54.1,1],[-6.06,113.1,0],[-6.34,90.5,0],[-8.27,22.6,1],[-7.25,7.1,0],[-6.97,1.7,1],[-6.6,32.6,1],[-6.06,26.2,1],[-5.73,31,1],
  [-5.45,34.5,1],[-5.34,50,0],[-4.69,36.2,0],[-5.02,27.9,1],[-5.15,-5.5,1],[-5.67,3.6,1],[-3.78,32.9,1],[-3.17,41.2,1],[-2.19,30.2,0],
  [-2.02,57.6,0],[-1.22,60.7,0],[-0.78,89.8,0],[-0.28,85.2,1],[-0.89,80.2,0],[0.24,83.3,1],[0.39,80.2,0],[0.63,71.4,0],[0.39,60,1],
  [-0.24,33.3,0],[0.93,46.4,0],[1.98,83.8,0],[3.41,112.6,0],[2.74,56,1],[3.93,60.2,0],[4.26,55.2,0],[4.97,54.8,1],[5.95,101.7,0],
  [6.78,118.3,0],[6.5,88.8,0],[6.97,98.3,0],[6.71,77.9,1],[7.45,75.5,0],[7.73,66,1],[5.95,63.1,0],[6.58,53.1,1],[8.0,56.4,0],
  [8.8,70.2,0],[9.75,64.3,1],[10.23,81.4,0],[10.77,81,1],[11.03,95.3,1],[11.42,129.1,3],[14.24,125.5,3],[12.07,107.6,3],
  [11.42,86.9,3],[11.92,81.7,3],[12.29,84.1,3],[11.96,94.5,0],[12.51,73.8,1],[13.44,76,1],[13.81,71.9,1],[15.0,88.8,0],
  [15.83,82.2,0],[16.31,80.2,1],[17.11,106,0],[17.02,96,1],[17.94,86.2,1],[15.22,56.4,3],[15.87,62.6,0],[17.61,62.6,0],
  [18.09,53.6,1],[19.89,-42.1,3],[0.13,-51.7,0],[9.0,-60.2,0],[13.05,-71.4,0],[9.64,-93,0],
  [4.36,-33.3,0],[4.9,-35.7,0],[5.67,-32.1,0],[6.14,-35.7,0],[6.64,-35.7,0],[7.36,-39.3,0],[8.06,-32.9,0],[9.14,-42.9,2],
  [9.68,-39.3,1],[9.25,-47.6,0],[10.23,-42.9,3],[10.66,-44,2],[10.99,-48.8,2],[11.1,-53.6,2],[11.2,-54.8,3],[12.4,-48.8,3],
  [12.7,-45.2,1],[13.3,-48.8,3],[13.6,-47.6,3],[14.57,-48.8,0],[14.9,-45.2,1],[15.2,-47.6,0],[15.9,-51.7,0],[15.87,-33.3,0],
  [17.5,-36.9,0],
  [24.2,-30,3],[24.5,-25,3],[24.9,-22,3],[24.7,-3,3],[25.0,2,3],[24.4,1,3],[23.9,-8,3],[24.6,-14,3],[23.2,7,1],[22.9,12,0],
  [22.2,31,0],[21.8,12,0],[22.4,-2,1]
];

// fitted curves: [temperature, yield change]
const riceLowFit = [[12.9,79],[13.1,75],[14.0,56.7],[15.08,35.9],[16.17,22.1],[17.26,11.7],[18.36,4.1],[19.45,-0.5],[20.54,-2.8],
  [21.63,-3.4],[22.73,-2.8],[23.82,-1.6],[24.91,-0.1],[26.0,0.7],[27.1,1.0],[28.2,0.3],[29.3,-2.8],[30.4,-9.1],[31.47,-18.4],[32.8,-30.5]];
const riceHighFit = [[11.7,78],[11.9,74.7],[12.62,57],[13.7,37.6],[14.8,23.9],[15.88,14.2],[16.96,7.4],[18.05,3.4],[19.1,1.7],
  [20.2,1.1],[21.3,1.3],[22.4,2.0],[23.5,2.5],[24.6,2.5],[25.65,1.1],[26.7,-2.9],[27.8,-9.7],[28.9,-20.5],[30.0,-35.4],[30.8,-49],[30.9,-51]];
const wheatLowFit = [[-2.9,66],[-1.5,52],[0,39],[1.45,27],[2.9,18],[4.0,12],[5.0,7.5],[6.0,4.3],[7.0,2],[8.0,0.3],[9.0,-1],
  [10.07,-1.9],[12.23,-3.1],[14.4,-4.0],[16.54,-4.8],[18.7,-6.4],[20.85,-10.7],[23.0,-17.9],[25.2,-28.6],[27.3,-44],[29.15,-62.6]];
const wheatHighFit = [[-8.3,18.5],[8.0,5],[24.9,-9]];

const panels = [
  { id: "p1", data: riceLow, fit: riceLowFit, label: "Rice, low latitude",
    left: 204, right: 898, top: 24, bottom: 389, yDomain: [-50, 75], yTicks: yTicksRice, yLabels: yLabelsRice,
    yTitle: { x: 62, y: 207 }, xTitle: false },
  { id: "p2", data: riceHigh, fit: riceHighFit, label: "Rice, mid\u2013 to high\u2013latitude",
    left: 1071, right: 1760, top: 24, bottom: 389, yDomain: [-50, 75], yTicks: yTicksRice, yLabels: yLabelsRice,
    yTitle: null, xTitle: false },
  { id: "p3", data: wheatLow, fit: wheatLowFit, label: "Wheat, low latitude",
    left: 204, right: 898, top: 481, bottom: 846, yDomain: [-110, 150], yTicks: yTicksWheat, yLabels: yLabelsWheat,
    yTitle: { x: 42, y: 663 }, xTitle: true },
  { id: "p4", data: wheatHigh, fit: wheatHighFit, label: "Wheat, mid\u2013 to high\u2013latitude",
    left: 1071, right: 1760, top: 481, bottom: 846, yDomain: [-110, 150], yTicks: yTicksWheat, yLabels: yLabelsWheat,
    yTitle: null, xTitle: true }
];

const svg = d3.select("body").append("svg")
  .attr("width", 1789)
  .attr("height", 986);

const fmt = d => d < 0 ? "\u2013" + Math.abs(d) : String(d);

panels.forEach(p => {
  const x = d3.scaleLinear().domain([-10, 35]).range([p.left, p.right]);
  const y = d3.scaleLinear().domain(p.yDomain).range([p.bottom, p.top]);

  svg.append("clipPath").attr("id", "clip-" + p.id)
    .append("rect")
    .attr("x", p.left).attr("y", p.top)
    .attr("width", p.right - p.left).attr("height", p.bottom - p.top);

  const g = svg.append("g").attr("clip-path", `url(#clip-${p.id})`);

  // zero reference line
  g.append("line")
    .attr("x1", p.left).attr("x2", p.right)
    .attr("y1", y(0)).attr("y2", y(0))
    .attr("stroke", "#b8b8b8")
    .attr("stroke-width", 4)
    .attr("stroke-dasharray", "3.5,3.3");

  g.selectAll("circle")
    .data(p.data)
    .join("circle")
    .attr("cx", d => x(d[0]))
    .attr("cy", d => y(d[1]))
    .attr("r", 4.2)
    .attr("fill", d => dotColours[d[2]])
    .attr("stroke", "#333")
    .attr("stroke-width", 0.9);

  const line = d3.line()
    .x(d => x(d[0]))
    .y(d => y(d[1]))
    .curve(d3.curveMonotoneX);

  g.append("path")
    .datum(p.fit)
    .attr("fill", "none")
    .attr("stroke", "#000")
    .attr("stroke-width", 3)
    .attr("d", line);

  // axes, ticks outward on all four sides
  const styleAxis = sel => {
    sel.select(".domain").remove();
    sel.selectAll(".tick line").attr("stroke", "#000").attr("stroke-width", 2);
    sel.selectAll(".tick text")
      .attr("fill", "#000")
      .style("font-size", "36px")
      .style("font-family", "'Liberation Sans', Arial, Helvetica, sans-serif");
  };

  svg.append("g").attr("transform", `translate(0,${p.bottom})`)
    .call(d3.axisBottom(x).tickValues(xMinor).tickSize(8).tickFormat(""))
    .call(styleAxis);
  svg.append("g").attr("transform", `translate(0,${p.bottom})`)
    .call(d3.axisBottom(x).tickValues(xMajor).tickSize(14).tickPadding(16).tickFormat(fmt))
    .call(styleAxis);
  svg.append("g").attr("transform", `translate(0,${p.top})`)
    .call(d3.axisTop(x).tickValues(xMinor).tickSize(8).tickFormat(""))
    .call(styleAxis);
  svg.append("g").attr("transform", `translate(0,${p.top})`)
    .call(d3.axisTop(x).tickValues(xMajor).tickSize(14).tickFormat(""))
    .call(styleAxis);

  svg.append("g").attr("transform", `translate(${p.left},0)`)
    .call(d3.axisLeft(y).tickValues(p.yTicks).tickSize(15).tickFormat(""))
    .call(styleAxis);
  svg.append("g").attr("transform", `translate(${p.left},0)`)
    .call(d3.axisLeft(y).tickValues(p.yLabels).tickSize(15).tickPadding(15).tickFormat(fmt))
    .call(styleAxis);
  svg.append("g").attr("transform", `translate(${p.right},0)`)
    .call(d3.axisRight(y).tickValues(p.yTicks).tickSize(15).tickFormat(""))
    .call(styleAxis);

  // frame
  svg.append("rect")
    .attr("x", p.left).attr("y", p.top)
    .attr("width", p.right - p.left).attr("height", p.bottom - p.top)
    .attr("fill", "none")
    .attr("stroke", "#000")
    .attr("stroke-width", 4);

  svg.append("text")
    .attr("x", p.left + 20)
    .attr("y", p.bottom - 16)
    .style("font-size", "28px")
    .attr("fill", "#000")
    .text(p.label);

  if (p.yTitle) {
    svg.append("text")
      .attr("transform", `translate(${p.yTitle.x},${p.yTitle.y}) rotate(-90)`)
      .attr("text-anchor", "middle")
      .style("font-size", "39px")
      .attr("fill", "#000")
      .text("Yield change (%)");
  }

  if (p.xTitle) {
    const t = svg.append("text")
      .attr("x", (p.left + p.right) / 2 + 3)
      .attr("y", 972)
      .attr("text-anchor", "middle")
      .attr("textLength", 673)
      .attr("lengthAdjust", "spacingAndGlyphs")
      .style("font-size", "38px")
      .attr("fill", "#000");
    t.append("tspan").text("Growing season mean temperaure (");
    t.append("tspan").attr("baseline-shift", "super").style("font-size", "24px").text("o");
    t.append("tspan").text("C)");
  }
});
</script>
</body>
</html>
